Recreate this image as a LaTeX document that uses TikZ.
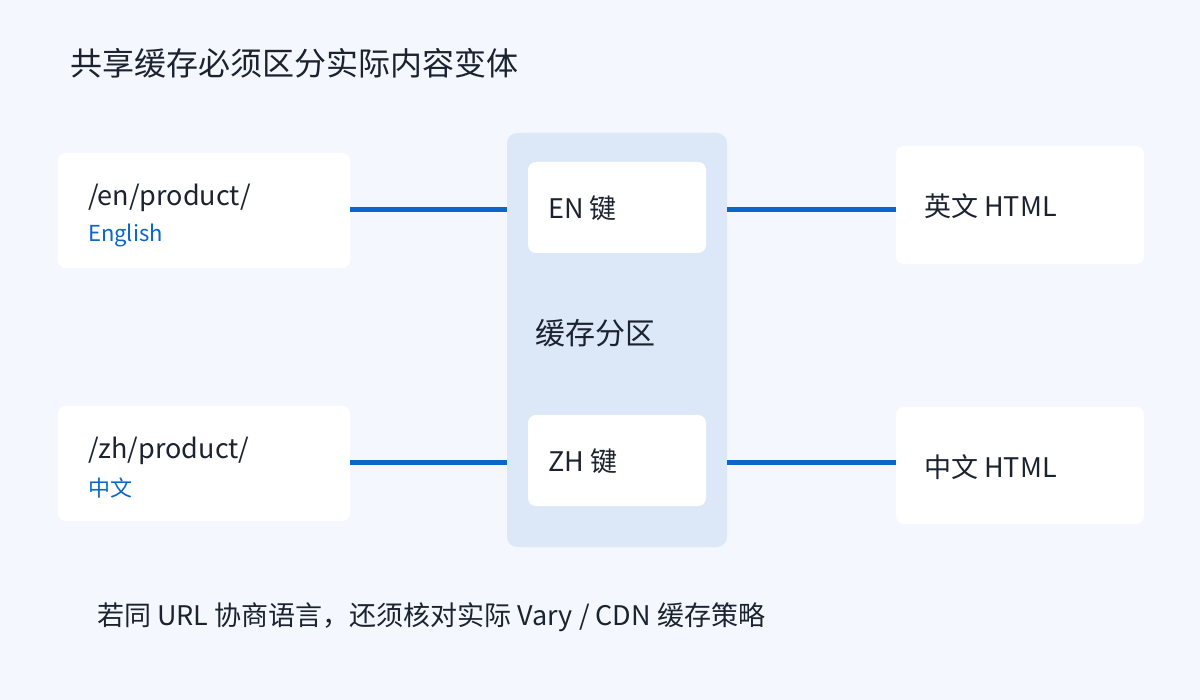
\documentclass[tikz,border=0pt]{standalone}
\usepackage{fontspec}
\setmainfont{Noto Sans CJK SC}
\definecolor{bg}{HTML}{F4F8FE}
\definecolor{panel}{HTML}{DCE8F7}
\definecolor{link}{HTML}{0A66C8}
\definecolor{ink}{HTML}{1C2330}
\begin{document}
\begin{tikzpicture}[x=1pt,y=-1pt,
  box/.style={fill=white,rounded corners=8pt,draw=none},
  lbl/.style={anchor=west,text=ink,font=\fontsize{27}{31}\selectfont,inner sep=0},
  sub/.style={anchor=west,text=link,font=\fontsize{22}{26}\selectfont,inner sep=0},
  conn/.style={draw=link,line width=5pt}]
\fill[bg] (0,0) rectangle (1200,700);
\useasboundingbox (0,0) rectangle (1200,700);
\node[anchor=west,text=ink,font=\fontsize{32}{36}\selectfont,inner sep=0] (title) at (70,63) {共享缓存必须区分实际内容变体};
\fill[panel,rounded corners=10pt] (507,133) rectangle (727,547);
\node[box,minimum width=292pt,minimum height=115pt] (en) at (204,210.5) {};
\node[box,minimum width=292pt,minimum height=115pt] (zh) at (204,463.5) {};
\node[box,minimum width=178pt,minimum height=91pt] (enk) at (617,207.5) {};
\node[box,minimum width=178pt,minimum height=91pt] (zhk) at (617,460.5) {};
\node[box,minimum width=248pt,minimum height=118pt] (enh) at (1020,205) {};
\node[box,minimum width=248pt,minimum height=117pt] (zhh) at (1020,465.5) {};
\node[lbl] (t1) at (88,198) {/en/product/};
\node[sub] (s1) at (88,235) {English};
\node[lbl] (t2) at (88,451) {/zh/product/};
\node[sub] (s2) at (88,488) {中文};
\node[lbl] (k1) at (548,208) {EN 键};
\node[lbl] (k2) at (548,461) {ZH 键};
\node[lbl,font=\fontsize{30}{34}\selectfont] (p) at (535,333) {缓存分区};
\node[lbl] (h1) at (924,206) {英文 HTML};
\node[lbl] (h2) at (924,467) {中文 HTML};
\node[lbl] (note) at (97,617) {若同 URL 协商语言，还须核对实际 Vary / CDN 缓存策略};
\draw[conn] (en.east |- 0,210) -- (507,210);
\draw[conn] (727,210) -- (enh.west |- 0,210);
\draw[conn] (zh.east |- 0,463) -- (507,463);
\draw[conn] (727,463) -- (zhh.west |- 0,463);
\end{tikzpicture}
\end{document}
